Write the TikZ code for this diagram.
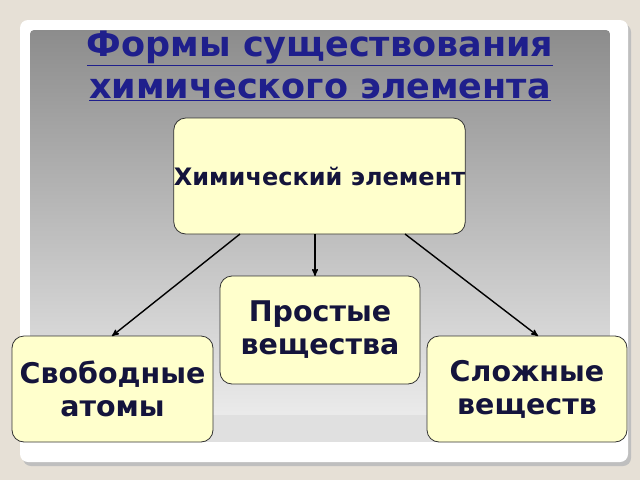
\documentclass[tikz,border=0pt]{standalone}
\usepackage{fontspec}
\setmainfont{DejaVu Sans}
\usetikzlibrary{arrows,positioning}
\definecolor{boxfill}{HTML}{FFFFCC}
\definecolor{titleblue}{HTML}{1F1F8C}
\definecolor{boxtext}{HTML}{14143C}
\definecolor{paper}{HTML}{E6E0D6}
\tikzset{
  box/.style={draw=black!80,fill=boxfill,rounded corners=12pt,line width=0.8pt,
    align=center,text=boxtext,font=\bfseries\fontsize{28.5}{33}\selectfont,inner sep=0pt},
  link/.style={->,>=stealth',line width=1.4pt}
}
\begin{document}
\begin{tikzpicture}[x=1pt,y=-1pt]
  \useasboundingbox (0,0) rectangle (640,480);
  \fill[paper] (0,0) rectangle (640,480);
  \fill[black!25,rounded corners=8pt] (23,24) rectangle (631,466);
  \fill[white,rounded corners=8pt] (20,20) rectangle (628,462);
  \shade[top color=black!45,bottom color=black!8,rounded corners=4pt] (30,30) rectangle (610,415);
  \fill[black!12] (30,415) rectangle (610,442);
  % title
  \node[font=\bfseries\fontsize{35}{42}\selectfont,text=titleblue,align=center] (title) at (320,66)
    {\underline{Формы существования}\\\underline{химического элемента}};
  % boxes
  \node[box,minimum width=287pt,minimum height=116pt,font=\bfseries\fontsize{24}{28}\selectfont] (element) at (319.5,176) {Химический элемент};
  \node[box,minimum width=200pt,minimum height=108pt] (simple) at (320,330) {Простые\\вещества};
  \node[box,minimum width=201pt,minimum height=106pt] (atoms) at (112.5,389) {Свободные\\атомы};
  \node[box,minimum width=200pt,minimum height=106pt] (complex) at (527,389) {Сложные\\веществ};
  % links
  \coordinate (a1) at (240,234);
  \coordinate (a2) at (315,234);
  \coordinate (a3) at (405,234);
  \draw[link] (a1) -- (112,336);
  \draw[link] (a2) -- (315,276);
  \draw[link] (a3) -- (538,336);
\end{tikzpicture}
\end{document}
